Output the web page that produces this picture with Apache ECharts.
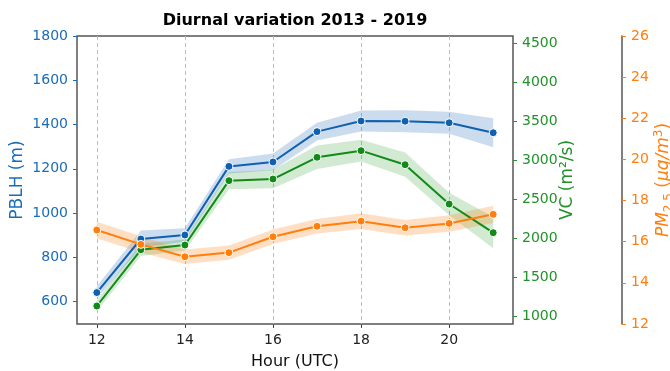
<!DOCTYPE html>
<html>
<head>
<meta charset="utf-8">
<script src="https://cdn.jsdelivr.net/npm/echarts@6/dist/echarts.min.js"></script>
<style>
  html, body { margin: 0; padding: 0; background: #fff; }
  #chart { width: 670px; height: 371px; }
</style>
</head>
<body>
<div id="chart"></div>
<script>
// Hour of day (UTC)
const hours = [12, 13, 14, 15, 16, 17, 18, 19, 20, 21];
// Planetary boundary layer height (m), mean and half-width of confidence band
const pblh = [641, 883, 901, 1211, 1231, 1368, 1416, 1415, 1408, 1363];
const pblhCi = [28, 38, 30, 32, 38, 40, 47, 50, 50, 65];
// Ventilation coefficient (m²/s)
const vc = [1128, 1850, 1911, 2737, 2758, 3037, 3122, 2942, 2437, 2069];
const vcCi = [70, 80, 70, 110, 120, 150, 140, 155, 145, 200];
// PM2.5 concentration (µg/m³)
const pm = [16.57, 15.87, 15.27, 15.47, 16.24, 16.75, 17.0, 16.68, 16.89, 17.33];
const pmCi = [0.4, 0.4, 0.35, 0.35, 0.35, 0.35, 0.38, 0.38, 0.4, 0.42];
// Tick labels
const xTicks = [12, 14, 16, 18, 20];
const pblhTicks = [600, 800, 1000, 1200, 1400, 1600, 1800];
const vcTicks = [1000, 1500, 2000, 2500, 3000, 3500, 4000, 4500];

const FONT = 'DejaVu Sans';
const BLUE = '#1060b0', BLUE_T = '#1a6cb8';
const GREEN = '#118a18', GREEN_T = '#22922a';
const ORANGE = '#ff7f0e', ORANGE_T = '#ff7f0e';

function pairs(vals) { return hours.map((h, i) => [h, vals[i]]); }

// Confidence band drawn as one polygon: upper edge left to right, lower edge back
function band(name, vals, ci, axis, fill) {
  const rows = hours.map((h, i) => [h, vals[i] - ci[i], vals[i] + ci[i]]);
  return {
    type: 'custom', name: name, yAxisIndex: axis, silent: true, z: 1,
    data: rows,
    encode: { x: 0, y: [1, 2] },
    renderItem: function (params, api) {
      if (params.dataIndex !== 0) return null;
      const up = rows.map(r => api.coord([r[0], r[2]]));
      const lo = rows.map(r => api.coord([r[0], r[1]])).reverse();
      return {
        type: 'polygon',
        shape: { points: up.concat(lo) },
        style: { fill: fill, stroke: 'none' }
      };
    }
  };
}

function mainLine(name, vals, axis, color) {
  return {
    type: 'line', name: name, yAxisIndex: axis, data: pairs(vals),
    symbol: 'circle', symbolSize: 8, showAllSymbol: true,
    lineStyle: { color: color, width: 2 },
    itemStyle: { color: color, borderColor: '#fff', borderWidth: 1 },
    z: 3
  };
}

const plain = v => String(v);

const chart = echarts.init(document.getElementById('chart'), null, { renderer: 'canvas' });

const option = {
  animation: false,
  textStyle: { fontFamily: FONT },
  grid: {
    left: 77, top: 36, right: 157, bottom: 47,
    outerBoundsMode: 'none', containLabel: false,
    show: true, borderColor: '#555', borderWidth: 1.5, backgroundColor: 'transparent'
  },
  graphic: [{
    type: 'text', x: 295, y: 21,
    style: {
      text: 'Diurnal variation 2013 - 2019', fontFamily: FONT, fontSize: 16,
      fontWeight: 'bold', fill: '#000', align: 'center', verticalAlign: 'middle'
    }
  }],
  xAxis: {
    type: 'value', min: 11.55, max: 21.45,
    axisLine: { show: false, onZero: false },
    axisTick: { show: true, customValues: xTicks, length: 4, lineStyle: { color: '#444' } },
    axisLabel: { customValues: xTicks, fontSize: 14, color: '#222', margin: 9, fontFamily: FONT, formatter: plain },
    splitLine: { show: true, lineStyle: { type: [4, 3], color: '#bdbdbd', width: 1 } },
    name: 'Hour (UTC)', nameLocation: 'middle', nameGap: 30, nameMoveOverlap: false,
    nameTextStyle: { fontSize: 16, color: '#111', fontFamily: FONT }
  },
  yAxis: [
    {
      type: 'value', position: 'left', min: 499, max: 1800,
      axisLine: { show: false, onZero: false },
      axisTick: { show: true, customValues: pblhTicks, length: 4, lineStyle: { color: BLUE_T } },
      axisLabel: { customValues: pblhTicks, fontSize: 14, color: BLUE_T, margin: 9, fontFamily: FONT, formatter: plain },
      splitLine: { show: false },
      name: 'PBLH (m)', nameLocation: 'middle', nameRotate: 90, nameGap: 51, nameMoveOverlap: false,
      nameTextStyle: { fontSize: 17, color: BLUE_T, fontFamily: FONT }
    },
    {
      type: 'value', position: 'right', min: 897, max: 4594,
      axisLine: { show: false, onZero: false },
      axisTick: { show: true, customValues: vcTicks, length: 4, lineStyle: { color: GREEN_T } },
      axisLabel: { customValues: vcTicks, fontSize: 14, color: GREEN_T, margin: 9, fontFamily: FONT, formatter: plain },
      splitLine: { show: false },
      name: 'VC (m²/s)', nameLocation: 'middle', nameRotate: 90, nameGap: 46, nameMoveOverlap: false,
      nameTextStyle: { fontSize: 17, color: GREEN_T, fontFamily: FONT }
    },
    {
      type: 'value', position: 'right', offset: 109, min: 12, max: 26, interval: 2,
      axisLine: { show: true, onZero: false, lineStyle: { color: '#555', width: 1.5 } },
      axisTick: { show: true, length: 4, lineStyle: { color: ORANGE_T } },
      axisLabel: { fontSize: 14, color: ORANGE_T, margin: 9, fontFamily: FONT, formatter: plain },
      splitLine: { show: false },
      name: '{i|PM}{s|2.5}{n| (}{i|μg/m}{p|3}{n|)}', nameLocation: 'middle', nameRotate: 90, nameGap: 31,
      nameMoveOverlap: false,
      nameTextStyle: {
        color: ORANGE_T, fontFamily: FONT, fontSize: 17,
        rich: {
          i: { fontSize: 17, fontStyle: 'italic', color: ORANGE_T, fontFamily: FONT, lineHeight: 22 },
          n: { fontSize: 17, color: ORANGE_T, fontFamily: FONT, lineHeight: 22 },
          s: { fontSize: 12, color: ORANGE_T, fontFamily: FONT, verticalAlign: 'bottom', lineHeight: 14 },
          p: { fontSize: 12, color: ORANGE_T, fontFamily: FONT, verticalAlign: 'top', lineHeight: 14 }
        }
      }
    }
  ],
  series: [
    band('pblhBand', pblh, pblhCi, 0, 'rgba(40,110,190,0.24)'),
    mainLine('PBLH', pblh, 0, BLUE),
    band('vcBand', vc, vcCi, 1, 'rgba(44,160,44,0.22)'),
    mainLine('VC', vc, 1, GREEN),
    band('pmBand', pm, pmCi, 2, 'rgba(255,127,14,0.25)'),
    mainLine('PM2.5', pm, 2, ORANGE)
  ]
};

chart.setOption(option);
</script>
</body>
</html>
